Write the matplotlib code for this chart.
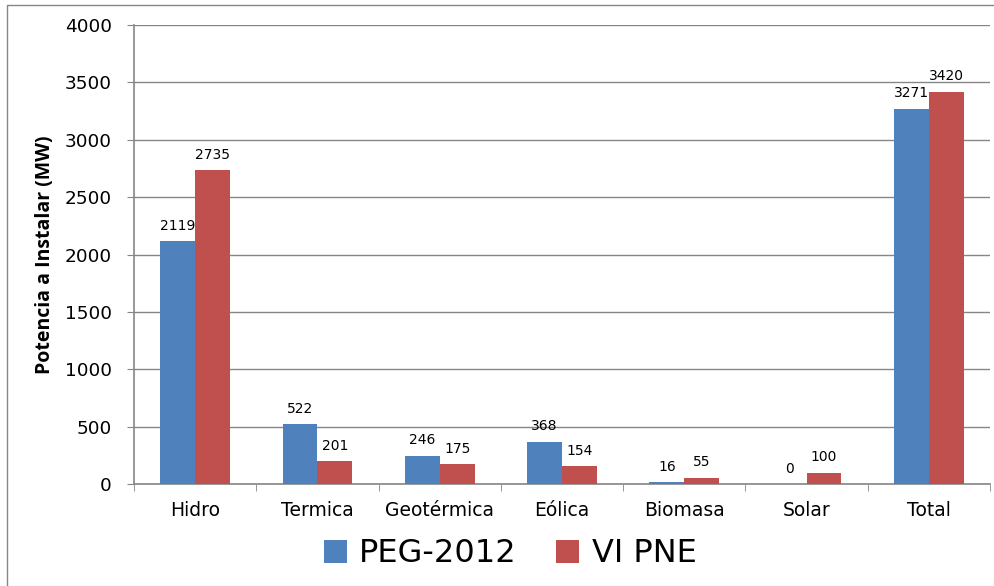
import numpy as np
import matplotlib.pyplot as plt
from matplotlib.lines import Line2D

categories = ['Hidro', 'Termica', 'Geotérmica', 'Eólica', 'Biomasa', 'Solar', 'Total']
peg_2012 = [2119, 522, 246, 368, 16, 0, 3271]
vi_pne = [2735, 201, 175, 154, 55, 100, 3420]

plt.rcParams['font.family'] = ['DejaVu Sans']

fig = plt.figure(figsize=(9.95, 5.86), dpi=100)
ax = fig.add_axes([134 / 995, 1 - 484 / 586, (990 - 134) / 995, (484 - 25) / 586])

x = np.arange(len(categories))
w = 0.285
b1 = ax.bar(x - w / 2, peg_2012, w, color='#4F81BD', label='PEG-2012', zorder=3)
b2 = ax.bar(x + w / 2, vi_pne, w, color='#C0504D', label='VI PNE', zorder=3)

# value labels over each bar
for bars in (b1, b2):
    for rect in bars:
        h = rect.get_height()
        ax.annotate(f'{int(h)}', (rect.get_x() + rect.get_width() / 2, h),
                    xytext=(0, 6), textcoords='offset points',
                    ha='center', va='bottom', fontsize=10)

ax.set_xlim(-0.5, len(categories) - 0.5)
ax.set_ylim(0, 4000)
ax.set_yticks(np.arange(0, 4001, 500))
ax.tick_params(axis='y', labelsize=13.3, length=5, color='#868686', pad=11)
ax.set_xticks(x)
ax.set_xticklabels(categories, fontsize=13.5)
ax.tick_params(axis='x', length=0, pad=12)
ax.set_xticks(np.arange(-0.5, len(categories)), minor=True)
ax.tick_params(axis='x', which='minor', length=5, color='#868686')

ax.grid(axis='y', color='#868686', linewidth=1, zorder=0)
for s in ('top', 'right'):
    ax.spines[s].set_visible(False)
for s in ('left', 'bottom'):
    ax.spines[s].set_color('#868686')
    ax.spines[s].set_linewidth(1.2)

ax.set_ylabel('Potencia a Instalar (MW)', fontsize=14, fontweight='bold',
              family=['Open Sans', 'DejaVu Sans'], labelpad=7)

fig.legend(loc='center', bbox_to_anchor=(510 / 995, 1 - 554 / 586), ncol=2,
           fontsize=23, frameon=False, handlelength=0.72, handleheight=0.72,
           columnspacing=1.25, handletextpad=0.38, borderpad=0, borderaxespad=0)

# chart frame (only top and left edges visible in the picture)
fx, fy = 7 / 995, 1 - 5 / 586
fig.lines.append(Line2D([fx, fx, 1], [0, fy, fy], transform=fig.transFigure,
                        color='#868686', linewidth=1))

fig.savefig('out.png', dpi=100)
